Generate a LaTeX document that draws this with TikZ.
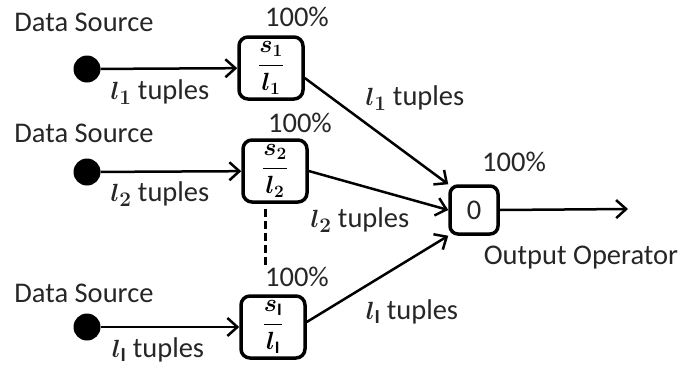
\documentclass[tikz,border=0pt]{standalone}
\usepackage{amsmath}
\usepackage{fontspec}
\setmainfont{Carlito}
\usetikzlibrary{arrows.meta,calc}
\begin{document}
\begin{tikzpicture}[x=1pt,y=-1pt,
  lbl/.style={font=\fontsize{28.5}{30}\selectfont\boldmath, text=black!85, inner sep=0pt},
  opbox/.style={draw, line width=3.5pt, rounded corners=9pt, minimum width=64pt,
                minimum height=62pt, inner sep=0pt, font=\fontsize{25}{27}\selectfont\boldmath},
  outbox/.style={draw, line width=3.5pt, rounded corners=8pt, minimum width=48pt,
                 minimum height=48pt, inner sep=0pt, font=\fontsize{28.5}{30}\selectfont, text=black!85},
  src/.style={circle, fill=black, minimum size=27pt, inner sep=0pt},
  flow/.style={line width=2.5pt, -{Straight Barb[length=10pt,width=18pt,line width=2.5pt]}},
  gap/.style={line width=3pt, dash pattern=on 8pt off 4pt},
]
\useasboundingbox (0,0) rectangle (682,367);

% first source
\node[lbl] (ds1) at (84,22) {Data Source};
\node[src] (s1) at (87,69) {};
\node[opbox] (b1) at (271,68) {$\dfrac{s_1}{l_1}$};
\node[lbl] (p1) at (297,17) {100\%};
\node[lbl] (t1) at (160,92) {$l_1$ tuples};
\draw[flow] (s1) -- (b1);

% second source
\node[lbl] (ds2) at (84,133) {Data Source};
\node[src] (s2) at (87,172) {};
\node[opbox] (b2) at (275,171) {$\dfrac{s_2}{l_2}$};
\node[lbl] (p2) at (300,123) {100\%};
\node[lbl] (t2) at (160,194) {$l_2$ tuples};
\draw[flow] (s2) -- (b2);

% last source
\node[lbl] (ds3) at (84,293) {Data Source};
\node[src] (s3) at (87,327) {};
\node[opbox] (b3) at (273,327) {$\dfrac{s_{\mathrm{I}}}{l_{\mathrm{I}}}$};
\node[lbl] (p3) at (297,277) {100\%};
\node[lbl] (t3) at (158,350) {$l_{\mathrm{I}}$ tuples};
\draw[flow] (s3) -- (b3);

% elided sources
\coordinate (dashend) at (265,266);
\draw[gap] ($(b2.south)+(-10,5)$) -- (dashend);

% output operator
\node[outbox] (out) at (474,210) {0};
\node[lbl] (p4) at (514,162) {100\%};
\node[lbl] (opl) at (581,258) {Output Operator};
\coordinate (sink) at (628,209);

\draw[flow] ($(b1.east)+(0,10)$) -- (out.north west);
\draw[flow] (b2.east) -- (out.west);
\draw[flow] ($(b3.east)+(0,-5)$) -- (out.south west);
\draw[flow] (out.east) -- (sink);

\node[lbl] (m1) at (415,98) {$l_1$ tuples};
\node[lbl] (m2) at (360,220) {$l_2$ tuples};
\node[lbl] (m3) at (412,312) {$l_{\mathrm{I}}$ tuples};
\end{tikzpicture}
\end{document}
